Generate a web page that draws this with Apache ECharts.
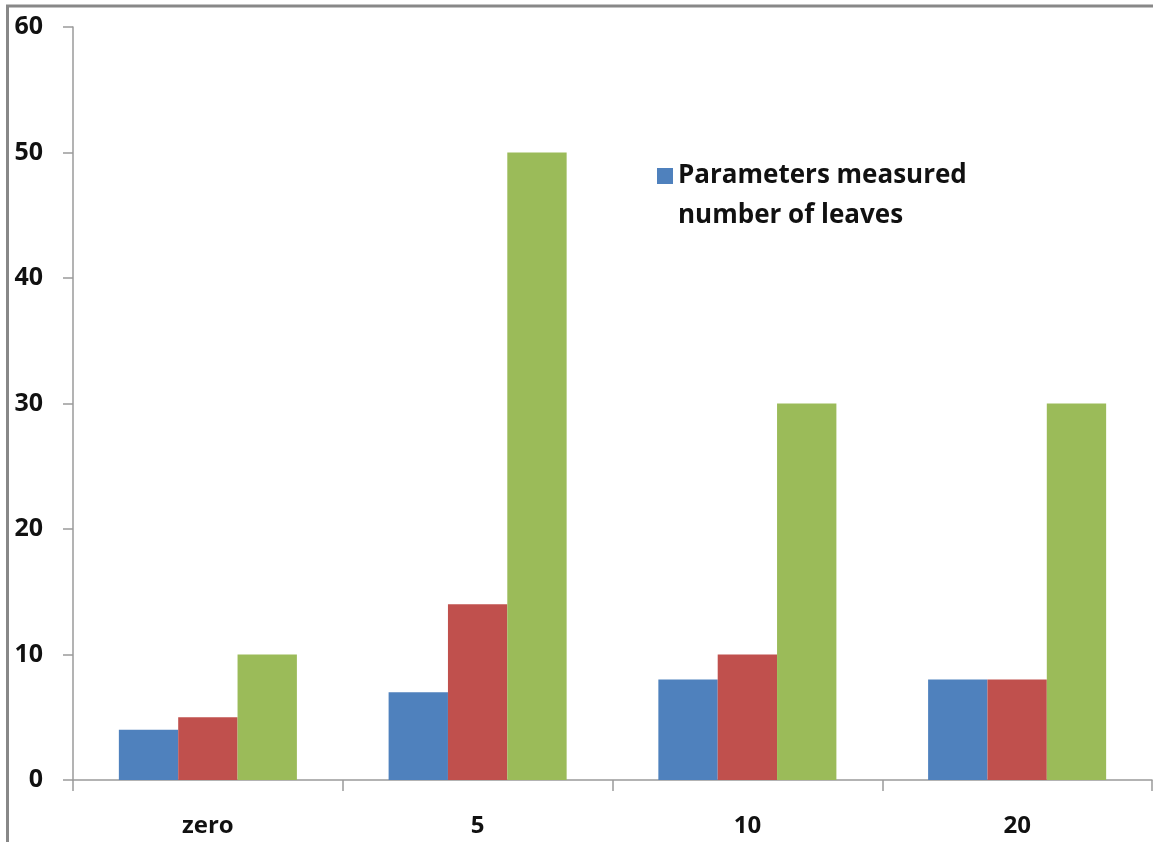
<!DOCTYPE html>
<html><head><meta charset="utf-8">
<script src="https://cdn.jsdelivr.net/npm/echarts@6/dist/echarts.min.js"></script>
<style>html,body{margin:0;padding:0;background:#fff}#c{width:1153px;height:842px}</style>
</head><body><div id="c"></div>
<script>
const categories = ['zero', '5', '10', '20'];
const seriesNames = ['Parameters measured number of leaves', 'Series 2', 'Series 3'];
const legendLines = ['Parameters measured', 'number of leaves'];
const blueValues = [4, 7, 8, 8];
const redValues = [5, 14, 10, 8];
const greenValues = [10, 50, 30, 30];
const yMin = 0, yMax = 60, yStep = 10;

const chart = echarts.init(document.getElementById('c'));
const font = 'Open Sans';
const legendText = { fontFamily: font, fontWeight: 'bold', fontSize: 26, color: '#111' };
chart.setOption({
  animation: false,
  backgroundColor: '#fff',
  grid: { left: 73, top: 27, right: 1, bottom: 62, containLabel: false },
  legend: {
    data: [seriesNames[0]],
    left: 652, top: 158, orient: 'vertical',
    itemWidth: 16, itemHeight: 16, itemGap: 8,
    icon: 'rect',
    formatter: () => legendLines[0],
    textStyle: legendText
  },
  xAxis: {
    type: 'category', data: categories,
    axisLine: { lineStyle: { color: '#9a9a9a', width: 1.5 } },
    axisTick: { show: true, length: 11, lineStyle: { color: '#9a9a9a', width: 1.5 } },
    axisLabel: { fontFamily: font, fontWeight: 'bold', fontSize: 24, color: '#111', margin: 34 }
  },
  yAxis: {
    type: 'value', min: yMin, max: yMax, interval: yStep,
    splitLine: { show: false },
    axisLine: { show: true, lineStyle: { color: '#9a9a9a', width: 1.5 } },
    axisTick: { show: true, length: 10, lineStyle: { color: '#9a9a9a', width: 1.5 } },
    axisLabel: { fontFamily: font, fontWeight: 'bold', fontSize: 25, color: '#111', margin: 30 }
  },
  series: [
    { name: seriesNames[0], type: 'bar', data: blueValues, itemStyle: { color: '#4F81BD' }, barGap: '0%', barCategoryGap: '34%' },
    { name: seriesNames[1], type: 'bar', data: redValues, itemStyle: { color: '#C0504D' }, barGap: '0%', barCategoryGap: '34%' },
    { name: seriesNames[2], type: 'bar', data: greenValues, itemStyle: { color: '#9BBB59' }, barGap: '0%', barCategoryGap: '34%' }
  ],
  graphic: [
    { type: 'line', shape: { x1: 7.5, y1: 6, x2: 7.5, y2: 842 }, style: { stroke: '#888', lineWidth: 3 } },
    { type: 'line', shape: { x1: 6, y1: 6, x2: 1153, y2: 6 }, style: { stroke: '#888', lineWidth: 3 } },
    { type: 'text', left: 678, top: 203, style: { text: legendLines[1], font: 'bold 26px "Open Sans"', fill: '#111' } }
  ]
});
</script></body></html>
